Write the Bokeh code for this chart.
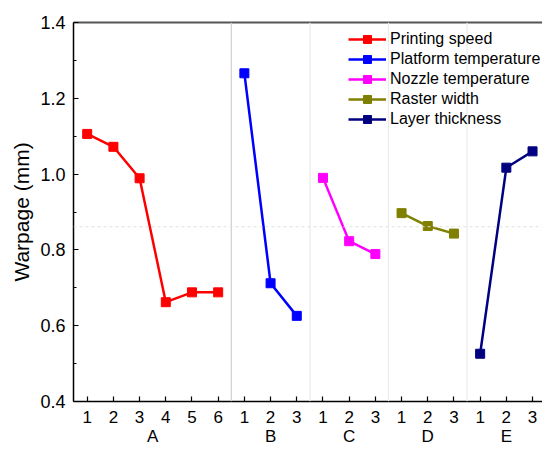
from bokeh.plotting import figure
from bokeh.models import (Range1d, LinearAxis, FixedTicker,
                          NumeralTickFormatter, Span, Legend, LegendItem)
from bokeh.embed import file_html
from bokeh.resources import INLINE

# ---- data ----
groups = ["A", "B", "C", "D", "E"]
series_names = ["Printing speed", "Platform temperature", "Nozzle temperature",
                "Raster width", "Layer thickness"]
series_values = [
    [1.106, 1.072, 0.989, 0.662, 0.688, 0.688],
    [1.266, 0.712, 0.626],
    [0.990, 0.823, 0.789],
    [0.897, 0.863, 0.843],
    [0.526, 1.017, 1.060],
]
colors = ["#FF0000", "#0000FF", "#FF00FF", "#808000", "#000080"]
mean_value = 0.861
y_ticks = [0.4, 0.6, 0.8, 1.0, 1.2, 1.4]
y_minor_ticks = [0.5, 0.7, 0.9, 1.1, 1.3]

FONT = "Liberation Sans"

p = figure(width=542, height=449, output_backend="svg", toolbar_location=None,
           x_range=Range1d(0.477, 18.38), y_range=Range1d(0.4, 1.4),
           min_border_left=73, min_border_right=0, min_border_top=22,
           min_border_bottom=48)
p.outline_line_color = None
p.xgrid.visible = False
p.ygrid.visible = False
p.background_fill_color = "white"
p.border_fill_color = "white"

# positions
positions = []
start = 1
for vals in series_values:
    positions.append(list(range(start, start + len(vals))))
    start += len(vals)

# separators
for i, pos in enumerate(positions[:-1]):
    loc = pos[-1] + 0.5
    col = "#cfcfcf" if i == 0 else "#ebebeb"
    p.add_layout(Span(location=loc, dimension="height", line_color=col, line_width=1.2))

p.add_layout(Span(location=mean_value, dimension="width", line_color="#e0e0e0",
                  line_width=1, line_dash="3 3"))

items = []
for name, xs, ys, c in zip(series_names, positions, series_values, colors):
    l = p.line(xs, ys, line_color=c, line_width=2.5)
    s = p.scatter(xs, ys, marker="square", size=9, fill_color=c, line_color=c)
    items.append(LegendItem(label=name, renderers=[l, s]))

legend = Legend(items=items, location=(275, 272), padding=0, margin=0,
                border_line_color=None, background_fill_alpha=0,
                glyph_width=38, glyph_height=20, label_height=20, spacing=0,
                label_standoff=4, label_text_font=FONT, label_text_font_size="16px",
                label_text_color="black")
p.add_layout(legend, "center")

# x axis: level numbers
xa = p.xaxis[0]
all_pos = [x for pos in positions for x in pos]
xa.ticker = FixedTicker(ticks=all_pos, minor_ticks=[])
overrides = {}
for pos in positions:
    for k, x in enumerate(pos):
        overrides[x] = str(k + 1)
xa.major_label_overrides = overrides
xa.major_tick_in = 5
xa.major_tick_out = 0
xa.minor_tick_in = 0
xa.minor_tick_out = 0
xa.axis_line_color = "black"
xa.axis_line_width = 1.5
xa.major_tick_line_color = "black"
xa.major_tick_line_width = 1.2
xa.major_label_text_font = FONT
xa.major_label_text_font_size = "17px"
xa.major_label_text_color = "black"
xa.major_label_standoff = 9

# group label axis
centers = [(pos[0] + pos[-1]) / 2 for pos in positions]
ga = LinearAxis(ticker=FixedTicker(ticks=centers, minor_ticks=[]),
                major_label_overrides={c: g for c, g in zip(centers, groups)},
                axis_line_color=None, major_tick_line_color=None,
                minor_tick_line_color=None, major_tick_in=0, major_tick_out=0,
                minor_tick_in=0, minor_tick_out=0,
                major_label_text_font=FONT, major_label_text_font_size="17px",
                major_label_text_color="black", major_label_standoff=1)
p.add_layout(ga, "below")

# y axis
ya = p.yaxis[0]
ya.ticker = FixedTicker(ticks=y_ticks, minor_ticks=y_minor_ticks)
ya.formatter = NumeralTickFormatter(format="0.0")
ya.major_tick_in = 5
ya.major_tick_out = 0
ya.minor_tick_in = 3
ya.minor_tick_out = 0
ya.axis_line_color = "black"
ya.axis_line_width = 1.5
ya.major_tick_line_color = "black"
ya.minor_tick_line_color = "black"
ya.major_tick_line_width = 1.2
ya.minor_tick_line_width = 1.2
ya.major_label_text_font = FONT
ya.major_label_text_font_size = "18px"
ya.major_label_text_color = "black"
ya.major_label_standoff = 8
ya.axis_label = "Warpage (mm)"
ya.axis_label_text_font = FONT
ya.axis_label_text_font_size = "21px"
ya.axis_label_text_font_style = "normal"
ya.axis_label_text_color = "black"
ya.axis_label_standoff = 4

# top border line
ta = LinearAxis(major_tick_line_color=None, minor_tick_line_color=None,
                major_label_text_font_size="0px", major_tick_in=0, major_tick_out=0,
                minor_tick_in=0, minor_tick_out=0, major_label_standoff=0,
                axis_line_color="#555555", axis_line_width=2)
ta.major_label_text_color = None
p.add_layout(ta, "above")

open("out.html", "w").write(file_html(p, INLINE))
